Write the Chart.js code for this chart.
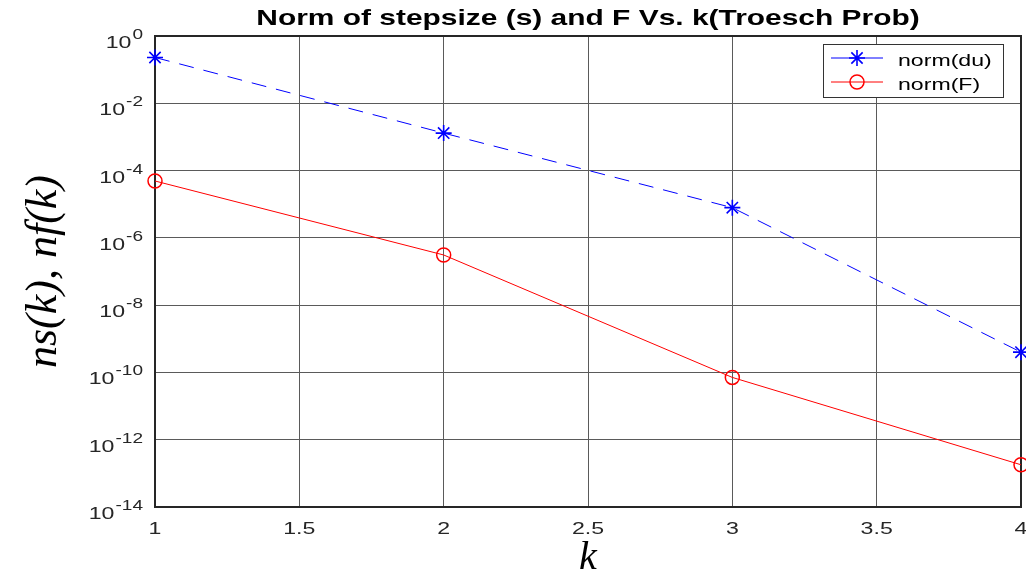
<!DOCTYPE html>
<html>
<head>
<meta charset="utf-8">
<script src="https://cdn.jsdelivr.net/npm/chart.js@4/dist/chart.umd.min.js"></script>
<style>
  html, body { margin: 0; padding: 0; background: #fff; }
  #wrap { width: 1026px; height: 575px; }
</style>
</head>
<body>
<div id="wrap"><canvas id="myChart" width="1026" height="575"></canvas></div>
<script>
// iteration number
var kVals = [1, 2, 3, 4];
// norm of the step (du) and of the residual F at each iteration
var normDu = [0.23, 1.3e-3, 7.9e-6, 4.0e-10];
var normF = [4.9e-5, 3.1e-7, 7.1e-11, 1.8e-13];
// log axis labelled every two decades
var yTickExps = [0, -2, -4, -6, -8, -10, -12, -14];
var xTicks = [1, 1.5, 2, 2.5, 3, 3.5, 4];
var titleText = 'Norm of stepsize (s) and F Vs. k(Troesch Prob)';

var gridColor = '#5a5a5a';
var axisColor = '#262626';
var sansFont = '"Liberation Sans", Arial, sans-serif';
var stretch = 1.36; // wide text, as exported from matlab

function toPoints(ys) {
    return kVals.map(function (k, i) { return { x: k, y: ys[i] }; });
}

// horizontally stretched text
function wideText(ctx, txt, x, y, align, font) {
    ctx.save();
    ctx.font = font;
    ctx.translate(x, y);
    ctx.scale(stretch, 1);
    ctx.textAlign = align;
    ctx.textBaseline = 'alphabetic';
    ctx.fillText(txt, 0, 0);
    ctx.restore();
}

function wideWidth(ctx, txt, font) {
    ctx.save();
    ctx.font = font;
    var w = ctx.measureText(txt).width * stretch;
    ctx.restore();
    return w;
}

// box around the axes, like matlab's "box on"
var boxPlugin = {
    id: 'box',
    beforeDatasetsDraw: function (chart) {
        var a = chart.chartArea, ctx = chart.ctx;
        ctx.save();
        ctx.strokeStyle = axisColor;
        ctx.lineWidth = 2;
        ctx.strokeRect(a.left, a.top, a.right - a.left, a.bottom - a.top);
        ctx.restore();
    }
};

// title, tick labels (10^n with raised exponent on y)
var axisText = {
    id: 'axisText',
    afterDraw: function (chart) {
        var ctx = chart.ctx, a = chart.chartArea;
        var xs = chart.scales.x, ys = chart.scales.y;
        ctx.save();
        ctx.fillStyle = '#000';
        wideText(ctx, titleText, (a.left + a.right) / 2, 25, 'center', 'bold 22px ' + sansFont);

        ctx.fillStyle = axisColor;
        xTicks.forEach(function (v) {
            wideText(ctx, String(v), xs.getPixelForValue(v), a.bottom + 27, 'center', '17px ' + sansFont);
        });

        var right = a.left - 12;
        yTickExps.forEach(function (e) {
            var py = ys.getPixelForValue(Math.pow(10, e));
            var expTxt = e === 0 ? '0' : '-' + Math.abs(e);
            var expFont = '14px ' + sansFont;
            wideText(ctx, expTxt, right, py + 3, 'right', expFont);
            var w = wideWidth(ctx, expTxt, expFont);
            wideText(ctx, '10', right - w - 1, py + 12, 'right', '17px ' + sansFont);
        });
        ctx.restore();
    }
};

// legend box with line + marker samples
var matLegend = {
    id: 'matLegend',
    afterDraw: function (chart) {
        var ctx = chart.ctx;
        var x0 = 823, y0 = 44, w = 180, h = 53;
        ctx.save();
        ctx.fillStyle = '#fff';
        ctx.fillRect(x0, y0, w, h);
        ctx.strokeStyle = '#333';
        ctx.lineWidth = 1;
        ctx.strokeRect(x0 + 0.5, y0 + 0.5, w, h);
        chart.data.datasets.forEach(function (ds, i) {
            var ly = y0 + 14 + i * 24;
            ctx.strokeStyle = ds.borderColor;
            ctx.lineWidth = 1;
            ctx.setLineDash([]);
            ctx.beginPath();
            ctx.moveTo(x0 + 8, ly);
            ctx.lineTo(x0 + 60, ly);
            ctx.stroke();
            var mx = x0 + 34, r = ds.pointRadius;
            ctx.lineWidth = ds.pointBorderWidth;
            ctx.beginPath();
            if (ds.pointStyle === 'star') {
                ctx.moveTo(mx - r, ly); ctx.lineTo(mx + r, ly);
                ctx.moveTo(mx, ly - r); ctx.lineTo(mx, ly + r);
                var d = r * 0.707;
                ctx.moveTo(mx - d, ly - d); ctx.lineTo(mx + d, ly + d);
                ctx.moveTo(mx - d, ly + d); ctx.lineTo(mx + d, ly - d);
            } else {
                ctx.arc(mx, ly, r, 0, Math.PI * 2);
            }
            ctx.stroke();
            ctx.fillStyle = '#000';
            wideText(ctx, ds.label, x0 + 75, ly + 8, 'left', '17px ' + sansFont);
        });
        ctx.restore();
    }
};

var ctx = document.getElementById('myChart');

var myChart = new Chart(ctx, {
    type: 'line',
    data: {
        datasets: [
            {
                label: 'norm(du)',
                data: toPoints(normDu),
                borderColor: '#0000ff',
                borderWidth: 1,
                borderDash: [15, 10],
                pointStyle: 'star',
                pointRadius: 8,
                pointBorderWidth: 1.6,
                pointBorderColor: '#0000ff',
                pointBackgroundColor: 'rgba(0,0,0,0)',
                tension: 0,
                clip: false
            },
            {
                label: 'norm(F)',
                data: toPoints(normF),
                borderColor: '#ff0000',
                borderWidth: 1,
                pointStyle: 'circle',
                pointRadius: 7,
                pointBorderWidth: 1.5,
                pointBorderColor: '#ff0000',
                pointBackgroundColor: 'rgba(0,0,0,0)',
                tension: 0,
                clip: false
            }
        ]
    },
    options: {
        responsive: false,
        animation: false,
        layout: { autoPadding: false, padding: { left: 0, right: 5, top: 36, bottom: 0 } },
        plugins: {
            legend: { display: false },
            tooltip: { enabled: false },
            title: { display: false }
        },
        scales: {
            x: {
                type: 'linear',
                min: 1,
                max: 4,
                afterBuildTicks: function (scale) {
                    scale.ticks = xTicks.map(function (v) { return { value: v }; });
                },
                afterFit: function (scale) {
                    scale.height = 68;
                    scale.paddingLeft = 0;
                    scale.paddingRight = 0;
                },
                ticks: { display: false },
                grid: { color: gridColor, lineWidth: 1, drawTicks: false },
                border: { display: false },
                title: {
                    display: true,
                    text: 'k',
                    color: '#000',
                    font: { family: '"Liberation Serif", "DejaVu Serif", serif', style: 'italic', size: 40, lineHeight: 0.85 },
                    padding: { top: 0, bottom: 0 }
                }
            },
            y: {
                type: 'logarithmic',
                min: 1e-14,
                max: 1,
                afterBuildTicks: function (scale) {
                    scale.ticks = yTickExps.map(function (e) { return { value: Math.pow(10, e) }; });
                },
                afterFit: function (scale) {
                    scale.width = 155;
                    scale.paddingTop = 0;
                    scale.paddingBottom = 0;
                },
                ticks: { display: false },
                grid: { color: gridColor, lineWidth: 1, drawTicks: false },
                border: { display: false },
                title: {
                    display: true,
                    text: 'ns(k), nf(k)',
                    color: '#000',
                    font: { family: '"Liberation Serif", "DejaVu Serif", serif', style: 'italic', size: 44, lineHeight: 1 },
                    padding: { top: 22, bottom: 0 }
                }
            }
        }
    },
    plugins: [boxPlugin, axisText, matLegend]
});
</script>
</body>
</html>
